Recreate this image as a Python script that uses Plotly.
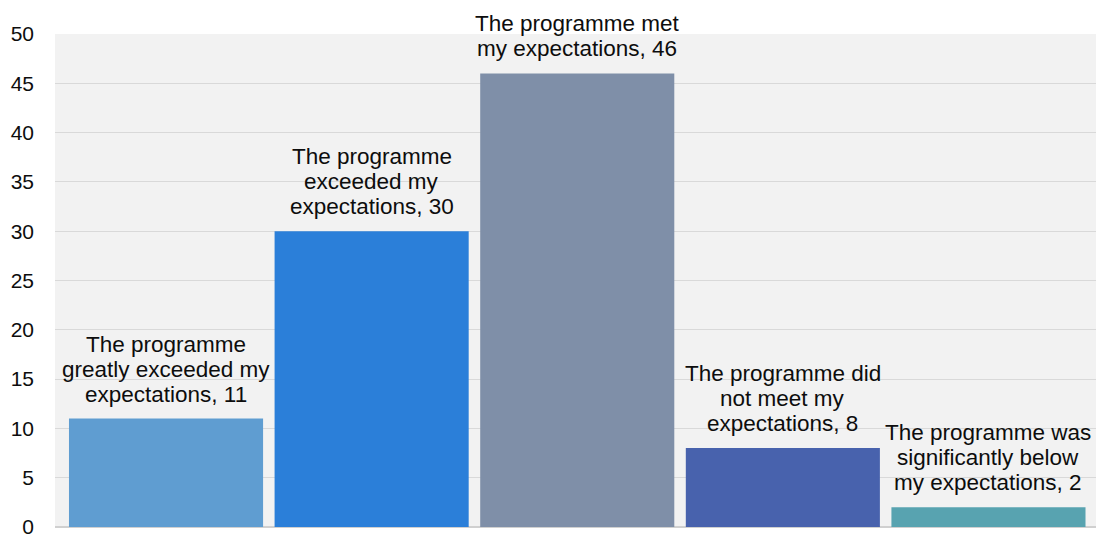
import plotly.graph_objects as go

# Category labels, already broken into display lines
label_lines = [
    ["The programme", "greatly exceeded my", "expectations"],
    ["The programme", "exceeded my", "expectations"],
    ["The programme met", "my expectations"],
    ["The programme did", "not meet my", "expectations"],
    ["The programme was", "significantly below", "my expectations"],
]
values = [11, 30, 46, 8, 2]
colors = ["#5f9dd1", "#2b7fd9", "#7f8fa8", "#4862ad", "#58a3b0"]
y_ticks = [0, 5, 10, 15, 20, 25, 30, 35, 40, 45, 50]

FONT = "Liberation Sans, Arial, sans-serif"
TEXT_SIZE = 22.5
LINE_STEP = 25      # px between label baselines
LABEL_GAP = 24.5    # px from bar top to the middle of the last label line

x_pos = list(range(len(values)))

fig = go.Figure(
    go.Bar(
        x=x_pos,
        y=values,
        marker=dict(color=colors, line=dict(width=0)),
        hoverinfo="skip",
    )
)

# Data labels: "<category>, <value>" stacked above each bar, one annotation per line
annotations = []
for xi, lines, v in zip(x_pos, label_lines, values):
    full = lines[:-1] + [f"{lines[-1]}, {v}"]
    n = len(full)
    for k, line in enumerate(full):
        annotations.append(
            dict(
                x=xi,
                y=v,
                xref="x",
                yref="y",
                text=line,
                showarrow=False,
                xanchor="center",
                yanchor="middle",
                yshift=LABEL_GAP + (n - 1 - k) * LINE_STEP,
                font=dict(family=FONT, size=TEXT_SIZE, color="#0d0d0d"),
            )
        )

fig.update_layout(
    width=1096,
    height=535,
    margin=dict(l=55, r=0, t=34, b=8, autoexpand=False),
    paper_bgcolor="#ffffff",
    plot_bgcolor="#f2f2f2",
    bargap=0.056,
    showlegend=False,
    annotations=annotations,
    font=dict(family=FONT, size=21, color="#0d0d0d"),
    xaxis=dict(
        range=[-0.54, 4.523],
        showticklabels=False,
        showgrid=False,
        zeroline=False,
        ticks="",
        automargin=False,
    ),
    yaxis=dict(
        range=[0, 50],
        tickvals=y_ticks,
        showgrid=True,
        gridcolor="#d9d9d9",
        gridwidth=1,
        zeroline=True,
        zerolinecolor="#d0d0d0",
        zerolinewidth=2,
        ticks="",
        ticklabelstandoff=20,
        ticklabeloverflow="allow",
        automargin=False,
        tickfont=dict(family=FONT, size=21, color="#0d0d0d"),
    ),
)

fig.write_html("out.html")
